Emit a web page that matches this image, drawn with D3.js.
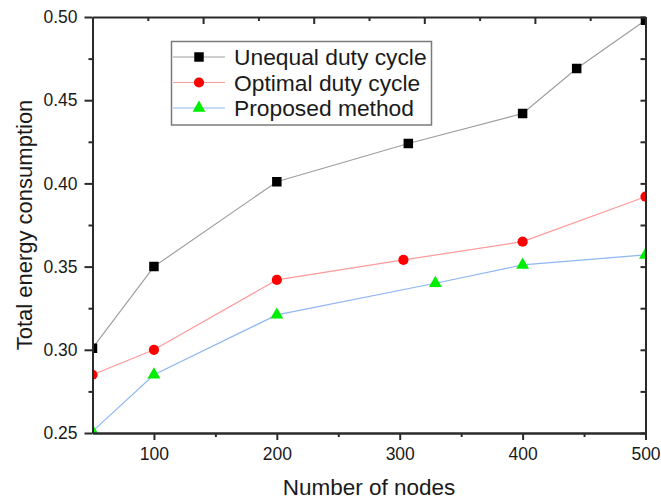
<!DOCTYPE html>
<html>
<head>
<meta charset="utf-8">
<script src="https://cdn.jsdelivr.net/npm/d3@7"></script>
<style>
  html, body { margin: 0; padding: 0; background: #fff; }
  svg { display: block; }
  text { font-family: "Liberation Sans", Arial, sans-serif; fill: #1a1a1a; }
</style>
</head>
<body>
<svg id="chart" width="661" height="500"></svg>
<script>
// Series: number of nodes vs. total energy consumption
const unequalNodes = [50, 100, 200, 307, 400, 444, 500];
const unequalEnergy = [0.301, 0.350, 0.401, 0.424, 0.442, 0.469, 0.498];

const optimalNodes = [50, 100, 200, 303, 400, 500];
const optimalEnergy = [0.285, 0.300, 0.342, 0.354, 0.365, 0.392];

const proposedNodes = [50, 100, 200, 329, 400, 500];
const proposedEnergy = [0.251, 0.285, 0.321, 0.340, 0.351, 0.357];

const seriesNames = ["Unequal duty cycle", "Optimal duty cycle", "Proposed method"];

// Axis ticks
const xMajorTicks = [100, 200, 300, 400, 500];
const xMinorTicks = [150, 250, 350, 450];
const yMajorTicks = [0.25, 0.30, 0.35, 0.40, 0.45, 0.50];
const yMinorTicks = [0.275, 0.325, 0.375, 0.425, 0.475];
const topTicks = [95, 140, 185, 230, 275, 320, 365, 410, 455, 500];

const xLabel = "Number of nodes";
const yLabel = "Total energy consumption";

const svg = d3.select("#chart");
const margin = { left: 92.5, top: 17, right: 15.5, bottom: 67 };
const W = 661, H = 500;
const iw = W - margin.left - margin.right;
const ih = H - margin.top - margin.bottom;

const x = d3.scaleLinear().domain([50, 500]).range([0, iw]);
const y = d3.scaleLinear().domain([0.25, 0.50]).range([ih, 0]);

const g = svg.append("g").attr("transform", `translate(${margin.left},${margin.top})`);

g.append("clipPath").attr("id", "plot-clip")
  .append("rect").attr("x", 0).attr("y", 0).attr("width", iw).attr("height", ih);

const series = [
  { name: seriesNames[0], xs: unequalNodes, ys: unequalEnergy, line: "#9e9e9e", fill: "#000000", shape: d3.symbolSquare, size: 90 },
  { name: seriesNames[1], xs: optimalNodes, ys: optimalEnergy, line: "#ff9a9a", fill: "#ff0000", shape: d3.symbolCircle, size: 82 },
  { name: seriesNames[2], xs: proposedNodes, ys: proposedEnergy, line: "#8fb7f2", fill: "#00ee00", shape: d3.symbolTriangle, size: 72 }
];

const plot = g.append("g").attr("clip-path", "url(#plot-clip)");
const lineGen = d3.line().x(d => x(d[0])).y(d => y(d[1]));

series.forEach(s => {
  const pts = s.xs.map((v, i) => [v, s.ys[i]]);
  plot.append("path")
    .datum(pts)
    .attr("d", lineGen)
    .attr("fill", "none")
    .attr("stroke", s.line)
    .attr("stroke-width", 1.2);
  plot.selectAll(null)
    .data(pts)
    .enter().append("path")
    .attr("d", d3.symbol().type(s.shape).size(s.size))
    .attr("transform", d => `translate(${x(d[0])},${y(d[1])})`)
    .attr("fill", s.fill);
});

// Axes
const axisColor = "#2a2a2a";
function styleAxis(sel) {
  sel.select(".domain").attr("stroke", axisColor).attr("stroke-width", 2);
  sel.selectAll(".tick line").attr("stroke", axisColor).attr("stroke-width", 2);
  sel.selectAll(".tick text").style("font-size", "17.5px").attr("fill", "#1a1a1a")
    .style("font-family", '"Liberation Sans", Arial, sans-serif');
}

// Bottom
g.append("g").attr("transform", `translate(0,${ih})`)
  .call(d3.axisBottom(x).tickValues(xMinorTicks).tickSize(4).tickFormat("").tickSizeOuter(0))
  .call(styleAxis);
g.append("g").attr("transform", `translate(0,${ih})`)
  .call(d3.axisBottom(x).tickValues(xMajorTicks).tickSize(7).tickPadding(8).tickFormat(d3.format("d")).tickSizeOuter(0))
  .call(styleAxis);

// Left
g.append("g")
  .call(d3.axisLeft(y).tickValues(yMinorTicks).tickSize(4).tickFormat("").tickSizeOuter(0))
  .call(styleAxis);
g.append("g")
  .call(d3.axisLeft(y).tickValues(yMajorTicks).tickSize(8).tickPadding(7).tickFormat(d3.format(".2f")).tickSizeOuter(0))
  .call(styleAxis);

// Top (inward ticks, alternating lengths)
g.append("g")
  .call(d3.axisBottom(x).tickValues(topTicks).tickSize(0).tickFormat("").tickSizeOuter(0))
  .call(styleAxis)
  .selectAll(".tick line")
  .attr("y2", (d, i) => (i % 2 === 0 ? 4 : 7));

// Right (inward ticks)
g.append("g").attr("transform", `translate(${iw},0)`)
  .call(d3.axisLeft(y).tickValues(yMinorTicks.concat(yMajorTicks)).tickSize(5).tickFormat("").tickSizeOuter(0))
  .call(styleAxis)
  .selectAll(".tick line").attr("x2", -5);

// Axis titles
svg.append("text")
  .attr("x", margin.left + iw / 2)
  .attr("y", 495)
  .attr("text-anchor", "middle")
  .style("font-size", "22.5px")
  .text(xLabel);

svg.append("text")
  .attr("transform", `translate(32,${margin.top + ih / 2}) rotate(-90)`)
  .attr("text-anchor", "middle")
  .style("font-size", "22px")
  .text(yLabel);

// Legend
const legend = svg.append("g");
legend.append("rect")
  .attr("x", 171.5).attr("y", 41.5)
  .attr("width", 260).attr("height", 83.5)
  .attr("fill", "#fff")
  .attr("stroke", "#7a7a7a")
  .attr("stroke-width", 1.5);

const rowY = [57, 82.5, 108];
series.forEach((s, i) => {
  const row = legend.append("g").attr("transform", `translate(0,${rowY[i]})`);
  row.append("line")
    .attr("x1", 173).attr("x2", 225).attr("y1", 0).attr("y2", 0)
    .attr("stroke", s.line).attr("stroke-width", 1.2);
  row.append("path")
    .attr("d", d3.symbol().type(s.shape).size(s.size))
    .attr("transform", "translate(199,0)")
    .attr("fill", s.fill);
  row.append("text")
    .attr("x", 234).attr("y", 8)
    .style("font-size", "22.8px")
    .text(s.name);
});
</script>
</body>
</html>
